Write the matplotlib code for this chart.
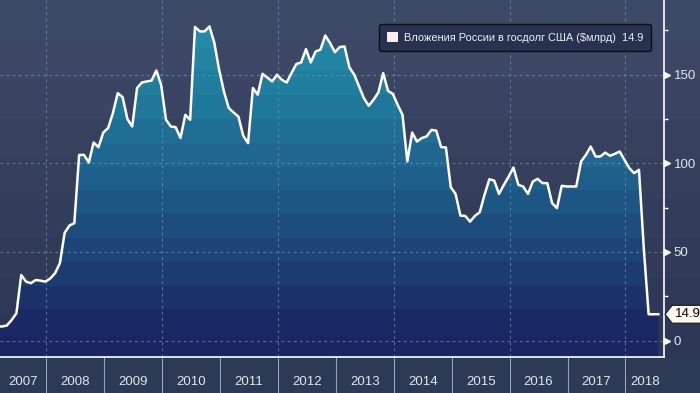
import numpy as np
import matplotlib
matplotlib.use("Agg")
import matplotlib.pyplot as plt
import matplotlib.transforms as mtransforms
from matplotlib.colors import LinearSegmentedColormap
from matplotlib.patches import Patch
from matplotlib.path import Path

plt.rcParams['font.family'] = ['Liberation Sans', 'DejaVu Sans']

# monthly holdings, $bn, first point Feb 2007
start_year = 2007
start_month = 2
vals_2007 = [8, 8, 8.5, 11.6, 15.4, 37, 33.3, 32.4, 34.2, 33.8, 33.3]
vals_2008 = [35, 38, 43.6, 60.8, 64.9, 66.2, 104.7, 104.7, 100.4, 111.7, 109, 117.3]
vals_2009 = [119.8, 128.3, 139.5, 137.3, 124.9, 120.7, 142.4, 145.5, 146.1, 146.6, 152.3, 144]
vals_2010 = [124.5, 120.7, 120.3, 114.2, 127.3, 124.5, 176.8, 174.3, 174.3, 177.1, 168, 152.7]
vals_2011 = [140.4, 131.1, 128.6, 126.3, 115.5, 111.3, 142.4, 138.6, 150.4, 148.3, 146.1, 149.9]
vals_2012 = [147, 145.5, 150.8, 155.9, 156.8, 164.3, 156.8, 163, 164, 172, 167.7, 162.6]
vals_2013 = [165.5, 165.8, 154, 149.9, 143.3, 136.7, 132.4, 135.8, 139.9, 150.8, 140.8, 139.1]
vals_2014 = [132.9, 127.3, 101, 117.3, 112.2, 114.2, 115.1, 118.8, 118.4, 109.1, 108.9, 86.5]
vals_2015 = [82.7, 70.5, 70.3, 67.1, 70.3, 72.4, 82.2, 91, 90.2, 82.7, 87.8, 92.5]
vals_2016 = [97.6, 87.8, 86.9, 82.7, 89.7, 91.2, 88.8, 88.8, 77.5, 74.7, 87.3, 86.9]
vals_2017 = [86.9, 86.9, 101, 104.7, 109.4, 103.8, 103.8, 106, 104.2, 105.3, 106.6, 101.9]
vals_2018 = [97.2, 94.4, 96.3, 52, 14.9, 14.9, 14.9]

holdings = np.array(vals_2007 + vals_2008 + vals_2009 + vals_2010 + vals_2011 + vals_2012
                    + vals_2013 + vals_2014 + vals_2015 + vals_2016 + vals_2017 + vals_2018)
t = start_year + (np.arange(len(holdings)) + start_month - 0.2) / 12

years = list(range(2007, 2019))
year_labels = [str(y) for y in years]
last_value = 14.9
legend_label = "Вложения России в госдолг США ($млрд)  14.9"

x0, x1 = 2007.2, 2018.662
y0, y1 = -9.2, 192

W, H = 700, 393
bottom = 36 / H

fig = plt.figure(figsize=(W / 100, H / 100), dpi=100, facecolor='#2c3a56')


def bands(stops, n):
    cmap = LinearSegmentedColormap.from_list('b', stops)
    cols = cmap((np.arange(n) + 0.5) / n)
    return cols[::-1][:, None, :]


# background gradient (covers plot + right margin)
ax_bg = fig.add_axes([0, bottom, 1, 1 - bottom])
ax_bg.axis('off')
ax_bg.imshow(bands(['#2b3754', '#343f5c', '#3f4c69'], 9), aspect='auto',
             extent=(0, 1, 0, 1), interpolation='nearest')
ax_bg.set_xlim(0, 1)
ax_bg.set_ylim(0, 1)

ax = fig.add_axes([0, bottom, 663.8 / W, 1 - bottom])
ax.set_facecolor('none')

# area fill with banded gradient
poly = ax.fill_between(t, holdings, y0, facecolor='none', edgecolor='none')
fill_stops = ['#1a2462', '#1b2a66', '#1c3a70', '#1d4a7c', '#1e5785',
              '#1f6690', '#1f7398', '#20809f', '#2289a6', '#238ea9']
im = ax.imshow(bands(fill_stops, 15), aspect='auto', extent=(x0, x1, y0, y1),
               interpolation='nearest', zorder=1)
im.set_clip_path(poly.get_paths()[0], transform=ax.transData)

# grid
for v in [0, 50, 100, 150]:
    ax.axhline(v, color='#7592b5', alpha=0.7, lw=0.8, ls=(0, (2.5, 3)), zorder=2)
for yr in range(2008, 2019, 2):
    ax.axvline(yr, color='#7592b5', alpha=0.7, lw=0.8, ls=(0, (2.5, 3)), zorder=2)

ax.plot(t, holdings, color='white', lw=1.8, zorder=4)

ax.set_xlim(x0, x1)
ax.set_ylim(y0, y1)

# x axis: year separators and centered labels
centers = [(max(y, x0) + min(y + 1, x1)) / 2 for y in years]
ax.set_xticks(centers)
ax.set_xticklabels(year_labels)
ax.set_xticks(range(2008, 2019), minor=True)
ax.tick_params(axis='x', which='major', length=0, pad=14, labelsize=9.5,
               labelcolor='#e4e6ea')
ax.tick_params(axis='x', which='minor', length=27, width=0.8,
               color='#9aa3b5', direction='out')

# y axis on the right
ax.yaxis.tick_right()
ax.set_yticks([0, 50, 100, 150])
ax.set_yticks([25, 75, 125, 175], minor=True)
ax.tick_params(axis='y', which='major', length=0, pad=7, labelsize=9.5,
               labelcolor='#e4e6ea')
ax.tick_params(axis='y', which='minor', length=3, width=1, color='white',
               direction='out')
trans = mtransforms.blended_transform_factory(ax.transAxes, ax.transData)
ax.plot([1.0055] * 4, [0, 50, 100, 150], ls='none', marker='>', ms=5,
        color='white', transform=trans, clip_on=False, zorder=5)

for s in ['left', 'top']:
    ax.spines[s].set_visible(False)
for s in ['right', 'bottom']:
    ax.spines[s].set_color('white')
    ax.spines[s].set_linewidth(1.2)


def tag_box(x0, y0, width, height, mutation_size):
    pad = 0.22 * mutation_size
    x0 -= pad
    y0 -= pad
    w = width + 2 * pad
    h = height + 2 * pad
    tip = h * 0.4
    verts = [(x0, y0), (x0 + w, y0), (x0 + w, y0 + h), (x0, y0 + h),
             (x0 - tip, y0 + h / 2), (x0, y0)]
    return Path(verts, closed=True)


ax.text(1.017, last_value, f"{last_value}", transform=trans, ha='left',
        va='center', fontsize=9.5, color='black', clip_on=False, zorder=6,
        bbox=dict(boxstyle=tag_box, fc='#fff7ec', ec='#1a1a1a', lw=0.8))

leg = ax.legend(handles=[Patch(facecolor='#fdeee9', edgecolor='none')],
                labels=[legend_label], loc='upper left',
                bbox_to_anchor=(379 / 663.8, 1 - 24 / 357), borderaxespad=0,
                fontsize=7.9, handlelength=0.95, handleheight=0.95,
                handletextpad=0.55, borderpad=0.75, fancybox=True,
                framealpha=1, facecolor='#273250', edgecolor='#0d0d12',
                labelcolor='#f0f0f0')
leg.get_frame().set_linewidth(1.0)
leg.set_zorder(7)

fig.savefig("out.png", dpi=100, facecolor=fig.get_facecolor())
